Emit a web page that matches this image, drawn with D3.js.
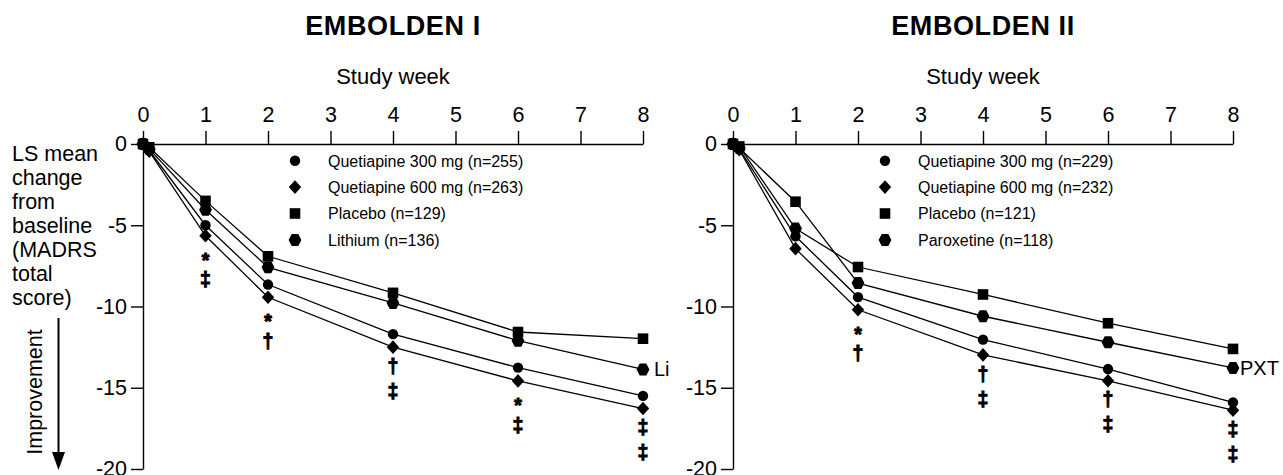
<!DOCTYPE html>
<html>
<head>
<meta charset="utf-8">
<script src="https://d3js.org/d3.v7.min.js"></script>
<style>
  body { margin: 0; background: #fff; }
  svg { display: block; }
  text { font-family: "Liberation Sans", Arial, Helvetica, sans-serif; fill: #000; }
  text.sig { font-weight: bold; stroke: #000; stroke-width: 1px; }
</style>
</head>
<body>
<svg id="chart" width="1283" height="475"></svg>
<script>
(function() {

  'use strict';

  // study weeks (0.1 = first visit right after baseline)
  var weeks = [0, 0.1, 1, 2, 4, 6, 8];
  var weekTicks = [0, 1, 2, 3, 4, 5, 6, 7, 8];
  var changeTicks = [0, -5, -10, -15, -20];

  // EMBOLDEN I
  var e1Names = ['Quetiapine 300 mg (n=255)', 'Quetiapine 600 mg (n=263)', 'Placebo (n=129)', 'Lithium (n=136)'];
  var e1Quet300 = [0, -0.4, -5.0, -8.65, -11.7, -13.76, -15.5];
  var e1Quet600 = [0, -0.45, -5.65, -9.43, -12.5, -14.58, -16.28];
  var e1Placebo = [0, -0.2, -3.5, -6.91, -9.16, -11.57, -11.98];
  var e1Lithium = [0, -0.3, -4.05, -7.59, -9.78, -12.1, -13.87];
  var e1Marks = [
    { week: 1, marks: ['*', '‡'] },
    { week: 2, marks: ['*', '†'] },
    { week: 4, marks: ['†', '‡'] },
    { week: 6, marks: ['*', '‡'] },
    { week: 8, marks: ['‡', '‡'] }
  ];

  // EMBOLDEN II
  var e2Names = ['Quetiapine 300 mg (n=229)', 'Quetiapine 600 mg (n=232)', 'Placebo (n=121)', 'Paroxetine (n=118)'];
  var e2Quet300 = [0, -0.3, -5.68, -9.42, -12.04, -13.85, -15.9];
  var e2Quet600 = [0, -0.35, -6.44, -10.2, -12.98, -14.57, -16.38];
  var e2Placebo = [0, -0.15, -3.55, -7.57, -9.26, -11.03, -12.61];
  var e2Paroxetine = [0, -0.25, -5.2, -8.56, -10.6, -12.2, -13.78];
  // as printed, the placebo and paroxetine lines swap between weeks 1 and 2
  var e2PlaceboLine = [0, -0.15, -5.2, -7.57, -9.26, -11.03, -12.61];
  var e2ParoxetineLine = [0, -0.25, -3.55, -8.56, -10.6, -12.2, -13.78];
  var e2Marks = [
    { week: 2, marks: ['*', '†'] },
    { week: 4, marks: ['†', '‡'] },
    { week: 6, marks: ['†', '‡'] },
    { week: 8, marks: ['‡', '‡'] }
  ];

  var FONT = 21.5;
  var MARK_FONT = 19.5;
  var svg = d3.select('#chart');

  var markerShapes = ['circle', 'diamond', 'square', 'hexagon'];

  var markerPath = function(kind) {
    switch (kind) {
      case 'circle':
        return d3.symbol(d3.symbolCircle, Math.PI * 5.2 * 5.2)();
      case 'diamond':
        return 'M0,-6.8L6.2,0L0,6.8L-6.2,0Z';
      case 'square':
        return 'M-5.3,-5.3H5.3V5.3H-5.3Z';
      default:
        return 'M-6.4,0L-3.3,-6L3.3,-6L6.4,0L3.3,6L-3.3,6Z';
    }
  };

  // vertical centre of each glyph above its baseline, in em
  var glyphCentre = { '*': 0.57, '†': 0.29, '‡': 0.29 };

  var y = d3.scaleLinear().domain([0, -20]).range([144, 469]);

  var drawPanel = function(opts) {
    var x = d3.scaleLinear().domain([0, 8]).range([opts.left, opts.left + 500]);
    var g = svg.append('g').classed('panel', true);
    var mid = opts.left + 250;
    var lines = opts.lines || opts.series;

    g.append('text')
      .attr('x', mid)
      .attr('y', 35)
      .attr('text-anchor', 'middle')
      .style('font-size', '27px')
      .style('font-weight', 'bold')
      .style('letter-spacing', '0.6px')
      .text(opts.title);

    g.append('text')
      .attr('x', mid)
      .attr('y', 84)
      .attr('text-anchor', 'middle')
      .style('font-size', '22px')
      .text('Study week');

    var xAxis = g.append('g')
      .attr('transform', 'translate(0,' + y(0) + ')')
      .call(d3.axisTop(x).tickValues(weekTicks).tickSize(13).tickSizeOuter(0).tickPadding(9)
        .tickFormat(d3.format('d')));

    var yAxis = g.append('g')
      .attr('transform', 'translate(' + opts.left + ',0)')
      .call(d3.axisLeft(y).tickValues(changeTicks).tickSize(12).tickSizeOuter(0).tickPadding(4)
        .tickFormat(function(d) { return d === 0 ? '0' : '-' + Math.abs(d); }));

    [xAxis, yAxis].forEach(function(axis) {
      axis.selectAll('path, line').attr('stroke', '#000').attr('stroke-width', 1.4);
      axis.selectAll('text').style('font-size', FONT + 'px').style('font-family', null);
    });

    var line = d3.line()
      .x(function(d) { return x(d[0]); })
      .y(function(d) { return y(d[1]); });

    lines.forEach(function(values) {
      var pts = weeks.map(function(w, i) { return [w, values[i]]; });
      g.append('path')
        .attr('d', line(pts))
        .attr('fill', 'none')
        .attr('stroke', '#000')
        .attr('stroke-width', 1.3);
    });

    opts.series.forEach(function(values, s) {
      g.selectAll(null)
        .data(weeks.map(function(w, i) { return [w, values[i]]; }))
        .enter()
        .append('path')
        .attr('transform', function(d) { return 'translate(' + x(d[0]) + ',' + y(d[1]) + ')'; })
        .attr('d', markerPath(markerShapes[s]))
        .attr('fill', '#000');
    });

    // legend
    opts.names.forEach(function(name, i) {
      var cy = 160.7 + i * 26.4;
      g.append('path')
        .attr('transform', 'translate(' + (opts.left + 152) + ',' + cy + ')')
        .attr('d', markerPath(markerShapes[i]))
        .attr('fill', '#000');
      g.append('text')
        .attr('x', opts.left + 185)
        .attr('y', cy + 5.8)
        .style('font-size', '16px')
        .text(name);
    });

    // significance marks stacked under the 600 mg point
    var q600 = opts.series[1];
    opts.marks.forEach(function(m) {
      var anchor = y(q600[weeks.indexOf(m.week)]);
      var label = g.append('text')
        .classed('sig', true)
        .attr('text-anchor', 'middle')
        .style('font-size', MARK_FONT + 'px');
      m.marks.forEach(function(sym, j) {
        var centre = anchor + 20 + j * 25;
        label.append('tspan')
          .attr('x', x(m.week))
          .attr('y', centre + glyphCentre[sym] * MARK_FONT)
          .text(sym);
      });
    });

    // end label for the active comparator
    var comp = opts.series[3];
    g.append('text')
      .attr('x', x(8) + opts.tagGap)
      .attr('y', y(comp[comp.length - 1]))
      .attr('dy', '0.35em')
      .style('font-size', '20px')
      .text(opts.tag);
  };

  drawPanel({
    title: 'EMBOLDEN I',
    left: 143,
    names: e1Names,
    series: [e1Quet300, e1Quet600, e1Placebo, e1Lithium],
    marks: e1Marks,
    tag: 'Li',
    tagGap: 11
  });

  drawPanel({
    title: 'EMBOLDEN II',
    left: 733,
    names: e2Names,
    series: [e2Quet300, e2Quet600, e2Placebo, e2Paroxetine],
    lines: [e2Quet300, e2Quet600, e2PlaceboLine, e2ParoxetineLine],
    marks: e2Marks,
    tag: 'PXT',
    tagGap: 7
  });

  // shared y-axis title
  var yTitle = svg.append('text')
    .style('font-size', FONT + 'px');
  ['LS mean', 'change', 'from', 'baseline', '(MADRS', 'total', 'score)'].forEach(function(t, i) {
    yTitle.append('tspan')
      .attr('x', 12)
      .attr('y', 161 + i * 24)
      .text(t);
  });

  svg.append('text')
    .attr('transform', 'translate(42,392) rotate(-90)')
    .attr('text-anchor', 'middle')
    .style('font-size', FONT + 'px')
    .text('Improvement');

  svg.append('line')
    .attr('x1', 58.5).attr('x2', 58.5)
    .attr('y1', 318).attr('y2', 455)
    .attr('stroke', '#000')
    .attr('stroke-width', 2);

  svg.append('path')
    .attr('d', 'M52,452L65,452L58.5,470Z')
    .attr('fill', '#000');

})();
</script>
</body>
</html>
